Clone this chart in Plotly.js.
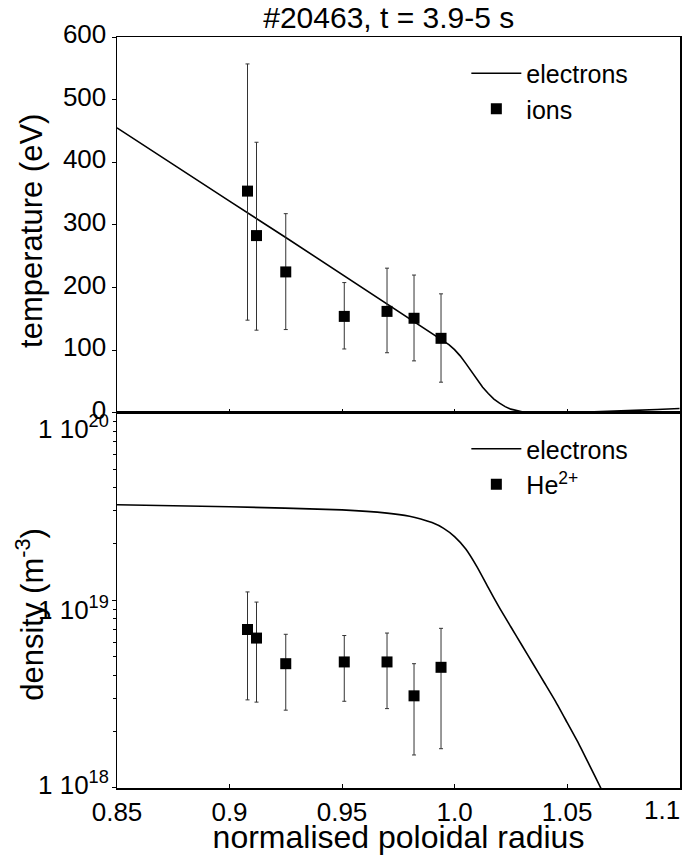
<!DOCTYPE html>
<html>
<head>
<meta charset="utf-8">
<script src="https://cdn.plot.ly/plotly-3.0.1.min.js"></script>
<style>html,body{margin:0;padding:0;background:#fff;}#chart{width:682px;height:855px;}</style>
</head>
<body>
<div id="chart"></div>
<script>
// ---- data ----
const radiusIons = [0.908, 0.912, 0.925, 0.951, 0.970, 0.982, 0.994];
const tempIons = [354, 283, 225, 154, 162, 151, 119];
const tempIonsUpper = [557, 432, 318, 208, 231, 220, 190];
const tempIonsLower = [148, 132, 133, 102, 96, 83, 49];

const radiusTe = [0.85, 0.875, 0.90, 0.925, 0.95, 0.97, 0.98, 0.99, 0.9925, 0.995, 0.9975, 1.00, 1.0025, 1.005, 1.0075, 1.01, 1.0125, 1.015, 1.0175, 1.02, 1.0225, 1.025, 1.0275, 1.03, 1.0325, 1.035, 1.04, 1.05, 1.06, 1.07, 1.08, 1.09, 1.10];
const tempElectrons = [455, 396, 338, 280, 221, 174, 150, 127.5, 121.5, 115.5, 109, 101, 91, 79, 66, 53, 41, 31, 22, 15.5, 10, 6, 3.5, 1.8, 0.8, 0.3, 0, 0, 1, 2.5, 4, 5.5, 7];

const densHe = [7.0e18, 6.3e18, 4.6e18, 4.7e18, 4.7e18, 3.1e18, 4.4e18];
const densHeUpper = [1.11e19, 9.8e18, 6.6e18, 6.5e18, 6.7e18, 4.6e18, 7.1e18];
const densHeLower = [2.95e18, 2.87e18, 2.6e18, 2.9e18, 2.65e18, 1.5e18, 1.62e18];

const radiusNe = [0.85, 0.90, 0.95, 0.97, 0.98, 0.985, 0.99, 0.995, 1.00, 1.005, 1.01, 1.015, 1.02, 1.025, 1.03, 1.035, 1.04, 1.045, 1.05, 1.055, 1.06, 1.065, 1.07];
const densElectrons = [3.24e19, 3.16e19, 3.04e19, 2.92e19, 2.81e19, 2.72e19, 2.60e19, 2.43e19, 2.19e19, 1.88e19, 1.51e19, 1.17e19, 9.12e18, 7.24e18, 5.75e18, 4.57e18, 3.63e18, 2.88e18, 2.24e18, 1.74e18, 1.32e18, 1.0e18, 7.6e17];

const xTickVals = [0.85, 0.9, 0.95, 1.0, 1.05, 1.1];
const xTickText = ['0.85', '0.9', '0.95', '1.0', '1.05', '1.1'];
const densTickExp = [18, 19, 20];
const densTickText = ['1 10<sup>18</sup>', '1 10<sup>19</sup>', '1 10<sup>20</sup>'];

// ---- styling ----
const FONT = 'Liberation Sans, Arial, sans-serif';
const plus = (v, up) => up.map((u, i) => u - v[i]);
const minus = (v, lo) => lo.map((l, i) => v[i] - l);
const errStyle = {color: '#333', thickness: 1, width: 2};

const traces = [
  {x: radiusTe, y: tempElectrons, xaxis: 'x', yaxis: 'y', mode: 'lines', name: 'electrons',
   line: {color: '#000', width: 1.6}, legend: 'legend'},
  {x: radiusIons, y: tempIons, xaxis: 'x', yaxis: 'y', mode: 'markers', name: 'ions',
   marker: {symbol: 'square', size: 11, color: '#000'},
   error_y: Object.assign({type: 'data', symmetric: false, array: plus(tempIons, tempIonsUpper), arrayminus: minus(tempIons, tempIonsLower)}, errStyle),
   legend: 'legend'},
  {x: radiusNe, y: densElectrons, xaxis: 'x2', yaxis: 'y2', mode: 'lines', name: 'electrons',
   line: {color: '#000', width: 1.6, shape: 'spline', smoothing: 0.5}, legend: 'legend2'},
  {x: radiusIons, y: densHe, xaxis: 'x2', yaxis: 'y2', mode: 'markers', name: 'He<sup>2+</sup>',
   marker: {symbol: 'square', size: 11, color: '#000'},
   error_y: Object.assign({type: 'data', symmetric: false, array: plus(densHe, densHeUpper), arrayminus: minus(densHe, densHeLower)}, errStyle),
   legend: 'legend2'}
];

const split = 0.4995;
const tickFont = {family: FONT, size: 26, color: '#000'};
const axisCommon = {showline: true, mirror: true, linecolor: '#000', linewidth: 1.5, zeroline: false, showgrid: false,
  tickfont: tickFont, tickcolor: '#000'};
const titleFont = {family: FONT, size: 31, color: '#000'};

// y2 tick labels sit a little below their ticks in the reference
const densLabelShift = [4, -8, -15];
const densLabels = densTickExp.map((e, i) => ({
  text: densTickText[i], font: tickFont, showarrow: false,
  xref: 'paper', x: 0, xanchor: 'right', xshift: -6,
  yref: 'y2', y: e, yanchor: 'middle', yshift: densLabelShift[i]
}));
// the last x label is kept inside the page (right-aligned at the plot edge)
const lastIdx = xTickVals.length - 1;
const xLabelsShown = xTickText.map((t, i) => (i === lastIdx ? '' : t));
const lastXLabel = {text: xTickText[lastIdx], font: tickFont, showarrow: false,
  xref: 'x2', x: xTickVals[lastIdx], xanchor: 'right', xshift: 2,
  yref: 'paper', y: 0, yanchor: 'top', yshift: -5};

const layout = {
  width: 682, height: 855,
  margin: {l: 117, r: 2, t: 37, b: 67},
  paper_bgcolor: '#fff', plot_bgcolor: '#fff',
  font: {family: FONT, color: '#000'},
  showlegend: true,
  title: {text: '#20463, t = 3.9-5 s', font: {family: FONT, size: 30, color: '#000'},
          xref: 'container', x: 0.57, xanchor: 'center', yref: 'container', y: 0.979, yanchor: 'middle'},
  xaxis: Object.assign({}, axisCommon, {domain: [0, 1], anchor: 'y', range: [0.85, 1.1002], tickvals: xTickVals, ticktext: xTickText,
    showticklabels: false, ticks: 'inside', ticklen: 4}),
  yaxis: Object.assign({}, axisCommon, {domain: [split, 1], anchor: 'x', range: [0, 600], dtick: 100, ticks: 'outside', ticklen: 4,
    ticklabelshift: -3}),
  xaxis2: Object.assign({}, axisCommon, {domain: [0, 1], anchor: 'y2', range: [0.85, 1.1002], tickvals: xTickVals, ticktext: xLabelsShown,
    ticks: 'inside', ticklen: 4,
    title: {text: 'normalised poloidal radius', font: {family: FONT, size: 32, color: '#000'}, standoff: 7}}),
  yaxis2: Object.assign({}, axisCommon, {domain: [0, split], anchor: 'x2', type: 'log', range: [18, 20],
    tickvals: densTickExp.map(e => Math.pow(10, e)), showticklabels: false, ticks: 'outside', ticklen: 4,
    minor: {ticks: 'outside', ticklen: 3, dtick: 'D1', tickcolor: '#000', showgrid: false}}),
  annotations: [
    {text: 'temperature (eV)', textangle: -90, font: titleFont, showarrow: false,
     xref: 'paper', yref: 'paper', x: (32 - 117) / 563, y: (788.3 - 231) / 751.3, xanchor: 'center', yanchor: 'middle'},
    {text: 'density (m<sup>-3</sup>)', textangle: -90, font: titleFont, showarrow: false,
     xref: 'paper', yref: 'paper', x: (30 - 117) / 563, y: (788.3 - 615) / 751.3, xanchor: 'center', yanchor: 'middle'},
    lastXLabel
  ].concat(densLabels),
  legend: {x: 0.6205, xanchor: 'left', y: 0.982, yanchor: 'top', bgcolor: 'rgba(0,0,0,0)',
    font: {family: FONT, size: 25, color: '#000'}, itemwidth: 50, tracegroupgap: 0},
  legend2: {x: 0.6205, xanchor: 'left', y: 0.482, yanchor: 'top', bgcolor: 'rgba(0,0,0,0)',
    font: {family: FONT, size: 25, color: '#000'}, itemwidth: 50, tracegroupgap: 0}
};

Plotly.newPlot('chart', traces, layout, {displayModeBar: false, staticPlot: true});
</script>
</body>
</html>
